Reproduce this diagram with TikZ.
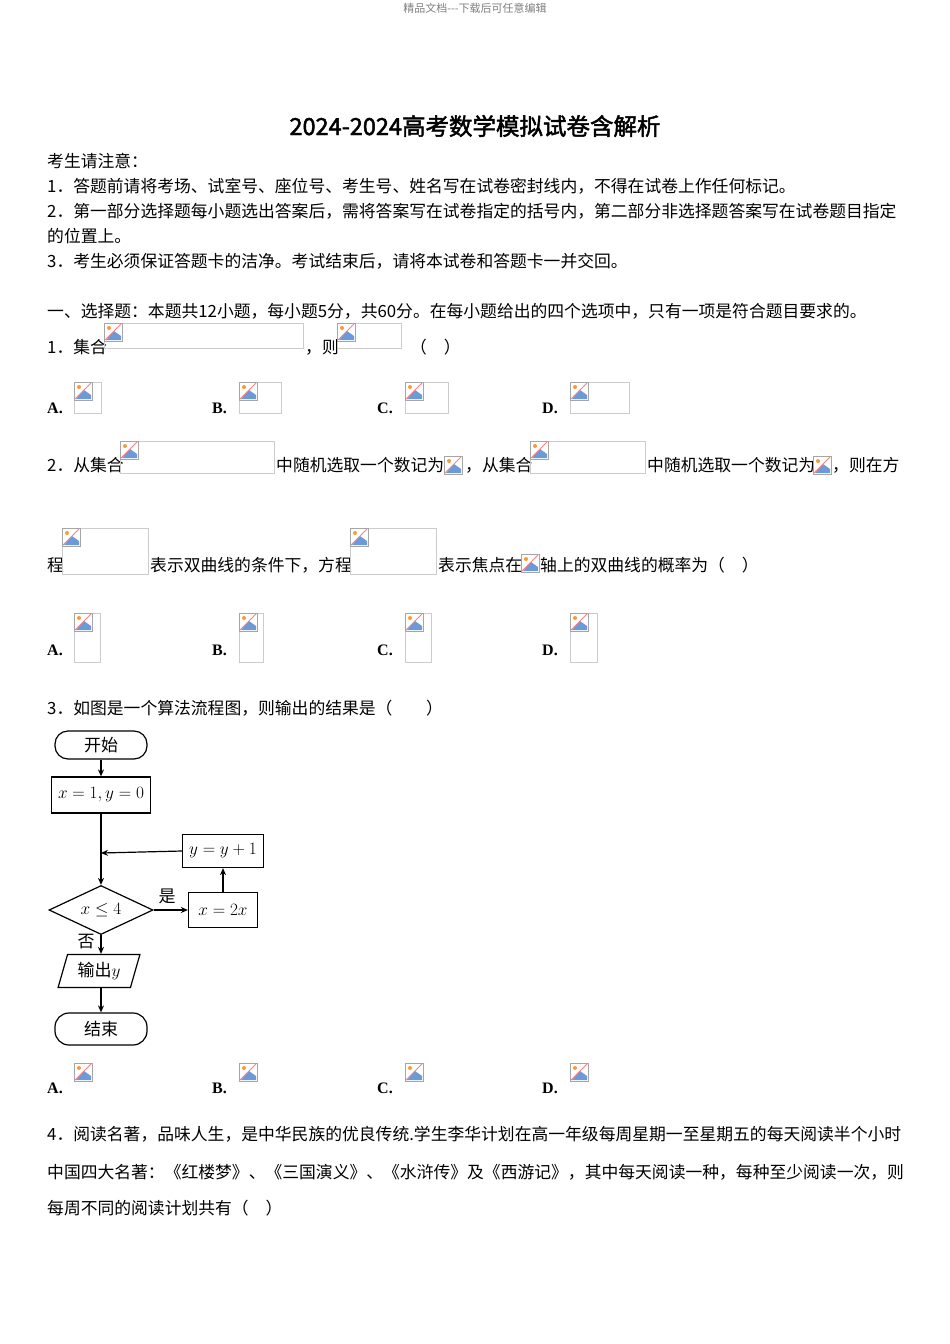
\documentclass[tikz,border=0pt]{standalone}
\usepackage{fontspec}
\setmainfont{Liberation Serif}
\newfontfamily\cjk{Noto Sans CJK SC}
\newfontfamily\cjkb[FakeBold=2]{Noto Sans CJK SC}
\usetikzlibrary{shapes.geometric,arrows.meta}
\newcommand\myicon[2]{%
  \fill[white] (#1,#2) rectangle ++(18,18);
  \draw[gray!70,line width=0.6] (#1,#2) rectangle ++(18,18);
  \fill[cyan!50!blue!60] (#1+2,#2+17) -- (#1+10,#2+8) -- (#1+17,#2+13) -- (#1+17,#2+17) -- cycle;
  \fill[orange!80] (#1+5,#2+5) circle (2);
  \draw[red!50,line width=0.8] (#1+1,#2+17) -- (#1+17,#2+1);}
\newcommand\imgbox[4]{%
  \draw[gray!40,line width=0.6] (#1,#2) rectangle (#3,#4);
  \myicon{#1}{#2}}
\begin{document}
\begin{tikzpicture}[x=1pt,y=-1pt,
  tx/.style={anchor=base west,inner sep=0,font=\cjk\fontsize{16.8}{19}\selectfont},
  opt/.style={anchor=base west,inner sep=0,font=\bfseries\fontsize{16}{19}\selectfont},
  fl/.style={draw,line width=1.2,inner sep=0,font=\cjk\fontsize{17}{20}\selectfont},
  arr/.style={line width=1.2,-{Stealth[length=7,width=6]}}]
\useasboundingbox[fill=white] (0,0) rectangle (950,1344);
\node[anchor=center,inner sep=0,font=\cjk\fontsize{11}{13}\selectfont,text=gray] (hdr) at (475,8) {精品文档---下载后可任意编辑};
\node[anchor=center,inner sep=0,font=\cjkb\fontsize{23.5}{27}\selectfont] (title) at (475,126) {2024-2024高考数学模拟试卷含解析};
\node[tx] (n0) at (47,167) {考生请注意：};
\node[tx] (n1) at (47,192) {1．答题前请将考场、试室号、座位号、考生号、姓名写在试卷密封线内，不得在试卷上作任何标记。};
\node[tx] (n2) at (47,217) {2．第一部分选择题每小题选出答案后，需将答案写在试卷指定的括号内，第二部分非选择题答案写在试卷题目指定};
\node[tx] (n2b) at (47,242) {的位置上。};
\node[tx] (n3) at (47,267) {3．考生必须保证答题卡的洁净。考试结束后，请将本试卷和答题卡一并交回。};
\node[tx] (s1) at (47,317) {一、选择题：本题共12小题，每小题5分，共60分。在每小题给出的四个选项中，只有一项是符合题目要求的。};
% Q1
\node[tx] (q1) at (47,353) {1．集合};
\imgbox{104}{323}{303}{348}
\node[tx] (q1b) at (305,353) {，则};
\imgbox{337}{323}{401}{348}
\node[tx] (q1c) at (410,353) {（\quad）};
\node[opt] (a1) at (47,413) {A.}; \imgbox{74}{382}{101}{413}
\node[opt] (b1) at (212,413) {B.}; \imgbox{239}{382}{281}{413}
\node[opt] (c1) at (377,413) {C.}; \imgbox{405}{382}{448}{413}
\node[opt] (d1) at (542,413) {D.}; \imgbox{570}{382}{629}{413}
% Q2
\node[tx] (q2) at (47,471) {2．从集合};
\imgbox{120}{441}{274}{473}
\node[tx] (q2b) at (276,471) {中随机选取一个数记为};
\myicon{444}{456}
\node[tx] (q2c) at (465,471) {，从集合};
\imgbox{530}{441}{645}{473}
\node[tx] (q2d) at (647,471) {中随机选取一个数记为};
\myicon{813}{456}
\node[tx] (q2e) at (832,471) {，则在方};
\node[tx] (q2f) at (47,571) {程};
\imgbox{62}{528}{148}{574}
\node[tx] (q2g) at (150,571) {表示双曲线的条件下，方程};
\imgbox{350}{528}{436}{574}
\node[tx] (q2h) at (438,571) {表示焦点在};
\myicon{521}{554}
\node[tx] (q2i) at (540,571) {轴上的双曲线的概率为（\quad）};
\node[opt] (a2) at (47,655) {A.}; \imgbox{74}{613}{100}{662}
\node[opt] (b2) at (212,655) {B.}; \imgbox{239}{613}{263}{662}
\node[opt] (c2) at (377,655) {C.}; \imgbox{405}{613}{431}{662}
\node[opt] (d2) at (542,655) {D.}; \imgbox{570}{613}{597}{662}
% Q3
\node[tx] (q3) at (47,714) {3．如图是一个算法流程图，则输出的结果是（\qquad）};
\node[fl,rounded corners=13,minimum width=92,minimum height=28] (start) at (101,745) {开始};
\node[fl,minimum width=99,minimum height=36] (init) at (101,795) {$x=1,y=0$};
\node[fl,minimum width=81,minimum height=33] (inc) at (223,851) {$y=y+1$};
\node[fl,diamond,aspect=2.1,minimum width=104,minimum height=49] (cond) at (101,910) {$x\le 4$};
\node[fl,minimum width=69,minimum height=35] (dbl) at (223,910) {$x=2x$};
\node[fl,trapezium,trapezium left angle=70,trapezium right angle=110,minimum width=82,minimum height=33,trapezium stretches=true] (out) at (99,971) {输出$y$};
\node[fl,rounded corners=14,minimum width=92,minimum height=32] (end) at (101,1029) {结束};
\coordinate (join) at (101,853);
\draw[arr] (start) -- (init);
\draw[arr] (init) -- (cond);
\draw[arr] (inc.west) -- (join);
\draw[arr] (cond.east) -- (dbl.west);
\draw[arr] (dbl) -- (inc);
\draw[arr] (cond.south) -- (out.north -| cond.south);
\draw[arr] (out.south -| end.north) -- (end);
\node[anchor=center,inner sep=0,font=\cjk\fontsize{17}{20}\selectfont] (yes) at (167,896) {是};
\node[anchor=center,inner sep=0,font=\cjk\fontsize{17}{20}\selectfont] (no) at (86,942) {否};
\node[opt] (a3) at (47,1093) {A.}; \myicon{74}{1063}
\node[opt] (b3) at (212,1093) {B.}; \myicon{239}{1063}
\node[opt] (c3) at (377,1093) {C.}; \myicon{405}{1063}
\node[opt] (d3) at (542,1093) {D.}; \myicon{570}{1063}
% Q4
\node[tx] (q4) at (47,1140) {4．阅读名著，品味人生，是中华民族的优良传统.学生李华计划在高一年级每周星期一至星期五的每天阅读半个小时};
\node[tx] (q4b) at (47,1178) {中国四大名著：《红楼梦》、《三国演义》、《水浒传》及《西游记》，其中每天阅读一种，每种至少阅读一次，则};
\node[tx] (q4c) at (47,1214) {每周不同的阅读计划共有（\quad）};
\end{tikzpicture}
\end{document}
